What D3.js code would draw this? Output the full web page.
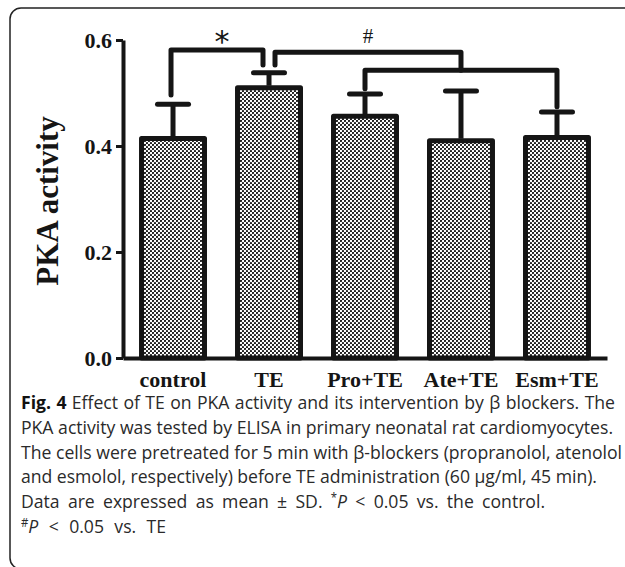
<!DOCTYPE html>
<html>
<head>
<meta charset="utf-8">
<script src="https://cdn.jsdelivr.net/npm/d3@7"></script>
<style>
  body { margin: 0; background: #fff; }
  svg { display: block; }
</style>
</head>
<body>
<div id="chart"></div>
<script>
// data
var groups = ["control", "TE", "Pro+TE", "Ate+TE", "Esm+TE"];
var means = [0.414, 0.510, 0.456, 0.410, 0.416];
var sds = [0.065, 0.028, 0.042, 0.094, 0.048];
var yTicks = [0, 0.2, 0.4, 0.6];
var yLabel = "PKA activity";

// significance brackets (levels in y units)
var starLevels = [0.496, 0.581, 0.553];          // control foot, top, TE foot
var hashLevels = [0.553, 0.577, 0.543];          // TE foot, top, joint with lower bracket
var hashFeet = [0.508, 0.474];                   // Pro+TE foot, Esm+TE foot

// caption: each line is a list of [text, style]
var caption = [
  [["Fig. 4", "b"], [" Effect of TE on PKA activity and its intervention by \u03B2 blockers. The", ""]],
  [["PKA activity was tested by ELISA in primary neonatal rat cardiomyocytes.", ""]],
  [["The cells were pretreated for 5 min with \u03B2-blockers (propranolol, atenolol", ""]],
  [["and esmolol, respectively) before TE administration (60 \u03BCg/ml, 45 min).", ""]],
  [["Data are expressed as mean \u00B1 SD. ", ""], ["*", "sup"], ["P", "i"], [" < 0.05 vs. the control.", ""]],
  [["#", "sup"], ["P", "i"], [" < 0.05 vs. TE", ""]]
];
var captionRight = [615, 613, 622, 597, 545, 166];

var W = 625, H = 567;
var svg = d3.select("#chart").append("svg")
  .attr("width", W).attr("height", H);

var defs = svg.append("defs");
var pat = defs.append("pattern")
  .attr("id", "dots").attr("width", 4).attr("height", 4)
  .attr("patternUnits", "userSpaceOnUse");
pat.append("rect").attr("width", 4).attr("height", 4).attr("fill", "#fff");
pat.append("circle").attr("cx", 1).attr("cy", 1).attr("r", 1.1).attr("fill", "#111");
pat.append("circle").attr("cx", 3).attr("cy", 3).attr("r", 1.1).attr("fill", "#111");

// frame (right and bottom edges run off the page)
svg.append("rect")
  .attr("x", 10).attr("y", 8).attr("width", 640).attr("height", 561)
  .attr("rx", 11)
  .attr("fill", "none").attr("stroke", "#222").attr("stroke-width", 1.5);

var x = d3.scaleBand()
  .domain(groups)
  .range([123, 607])
  .paddingInner(0.344)
  .paddingOuter(0.193);

var y = d3.scaleLinear()
  .domain([0, 0.6])
  .range([358, 40]);

var serif = "'Liberation Serif', 'Times New Roman', serif";
var ink = "#151515";

// bars
svg.append("g")
  .selectAll("rect")
  .data(groups)
  .enter()
  .append("rect")
    .attr("x", d => x(d))
    .attr("y", (d, i) => y(means[i]))
    .attr("width", x.bandwidth())
    .attr("height", (d, i) => y(0) - y(means[i]))
    .attr("fill", "url(#dots)")
    .attr("stroke", ink)
    .attr("stroke-width", 5)
    .attr("stroke-linejoin", "round");

// error bars
var cx = d => x(d) + x.bandwidth() / 2;
var err = svg.append("g").attr("stroke", ink).attr("stroke-width", 5);
groups.forEach((g, i) => {
  err.append("line")
    .attr("x1", cx(g)).attr("x2", cx(g))
    .attr("y1", y(means[i]) - 2).attr("y2", y(means[i] + sds[i]));
  err.append("line")
    .attr("x1", cx(g) - 15.5).attr("x2", cx(g) + 15.5)
    .attr("y1", y(means[i] + sds[i])).attr("y2", y(means[i] + sds[i]))
    .attr("stroke-linecap", "round");
});

// y axis
var yAxis = svg.append("g")
  .attr("transform", "translate(123,0)")
  .call(d3.axisLeft(y).tickValues(yTicks).tickFormat(d3.format(".1f"))
    .tickSize(7).tickSizeOuter(0).tickPadding(4));
yAxis.select(".domain").attr("stroke", ink).attr("stroke-width", 4);
yAxis.selectAll(".tick line").attr("stroke", ink).attr("stroke-width", 3);
yAxis.selectAll(".tick text")
  .attr("fill", ink)
  .style("font-family", serif).style("font-weight", "bold").style("font-size", "22px");

// x axis
var xAxis = svg.append("g")
  .attr("transform", "translate(0," + y(0) + ")")
  .call(d3.axisBottom(x).tickSize(0).tickSizeOuter(0).tickPadding(13));
xAxis.select(".domain").attr("stroke", ink).attr("stroke-width", 4);
xAxis.selectAll(".tick text")
  .attr("fill", ink)
  .style("font-family", serif).style("font-weight", "bold").style("font-size", "22px");

// y label
svg.append("text")
  .attr("transform", "translate(58," + ((y(0) + y(0.6)) / 2 + 2) + ") rotate(-90)")
  .attr("text-anchor", "middle")
  .attr("fill", ink)
  .style("font-family", serif).style("font-weight", "bold").style("font-size", "31px")
  .text(yLabel);

// significance brackets
var br = svg.append("g")
  .attr("fill", "none").attr("stroke", ink).attr("stroke-width", 5)
  .attr("stroke-linejoin", "round").attr("stroke-linecap", "round");

var sL = cx("control") - 2, sR = cx("TE") - 6;
br.append("path").attr("d", d3.line()([
  [sL, y(starLevels[0])], [sL, y(starLevels[1])], [sR, y(starLevels[1])], [sR, y(starLevels[2])]
]));

var hL = cx("TE") + 6, pX = cx("Pro+TE"), eX = cx("Esm+TE"), hR = (pX + eX) / 2;
br.append("path").attr("d", d3.line()([
  [hL, y(hashLevels[0])], [hL, y(hashLevels[1])], [hR, y(hashLevels[1])], [hR, y(hashLevels[2])]
]));
br.append("path").attr("d", d3.line()([
  [pX, y(hashFeet[0])], [pX, y(hashLevels[2])], [eX, y(hashLevels[2])], [eX, y(hashFeet[1])]
]));

svg.append("text")
  .attr("x", (sL + sR) / 2 + 5).attr("y", y(starLevels[1]) + 2)
  .attr("text-anchor", "middle")
  .attr("fill", ink)
  .style("font-family", "'DejaVu Sans', sans-serif").style("font-size", "30px")
  .text("*");
svg.append("text")
  .attr("x", (hL + hR) / 2).attr("y", y(hashLevels[1]) - 9)
  .attr("text-anchor", "middle")
  .attr("fill", ink)
  .style("font-family", serif).style("font-size", "21px")
  .text("#");

// caption
var capFont = "'Open Sans', 'Noto Sans', sans-serif";
var capLeft = 21, capTop = 409, capStep = 24.8;
var capNodes = caption.map((line, li) => {
  var t = svg.append("text")
    .attr("x", 0).attr("y", 0)
    .attr("fill", "#2a2a2a")
    .style("font-family", capFont).style("font-size", "18.5px");
  line.forEach(seg => {
    var s = t.append("tspan").text(seg[0]);
    if (seg[1] === "b") s.style("font-weight", "bold").attr("fill", "#111");
    if (seg[1] === "i") s.style("font-style", "italic").attr("dy", 6);
    if (seg[1] === "sup") s.style("font-size", "12px").attr("dy", -6);
  });
  return t;
});

// squeeze glyphs to match the condensed face, using line 2 as reference,
// then justify each line with word spacing
var refW = capNodes[1].node().getComputedTextLength();
var sx = (captionRight[1] - capLeft) / refW;
capNodes.forEach((t, li) => {
  t.attr("transform", "translate(" + capLeft + "," + (capTop + li * capStep) + ") scale(" + sx + ",1)");
  var natural = t.node().getComputedTextLength();
  var spaces = t.text().split(" ").length - 1;
  var ws = ((captionRight[li] - capLeft) / sx - natural) / spaces;
  t.style("word-spacing", ws + "px");
});
</script>
</body>
</html>
